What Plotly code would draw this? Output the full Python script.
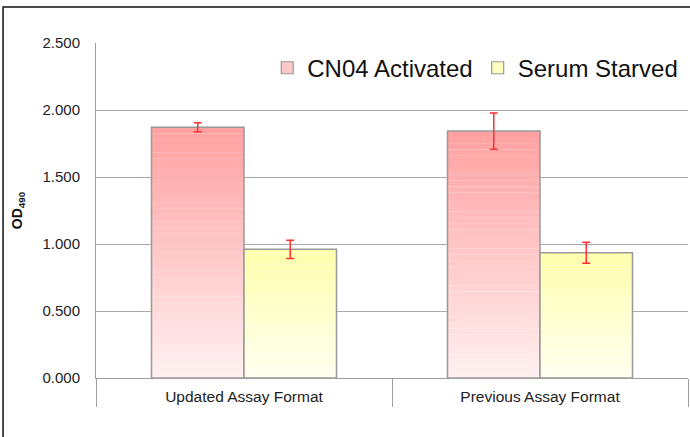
import plotly.graph_objects as go

categories = ["Updated Assay Format", "Previous Assay Format"]
series_names = ["CN04 Activated", "Serum Starved"]
cn04_values = [1.871, 1.843]
cn04_errors = [0.033, 0.135]
serum_values = [0.960, 0.935]
serum_errors = [0.068, 0.078]
y_tick_values = [0, 0.5, 1.0, 1.5, 2.0, 2.5]

series = [
    (series_names[0], cn04_values, cn04_errors, (255, 160, 160), (255, 240, 240), "#FFC8C8"),
    (series_names[1], serum_values, serum_errors, (255, 255, 170), (255, 255, 240), "#FFFFC0"),
]

N = 40
fig = go.Figure()
for si, (name, vals, errs, top, bot, legc) in enumerate(series):
    for i in range(N):
        t = (i + 0.5) / N
        c = tuple(round(bot[k] + (top[k] - bot[k]) * t) for k in range(3))
        fig.add_trace(go.Bar(
            x=categories, y=[v / N * 1.02 for v in vals], base=[v * i / N for v in vals],
            offsetgroup=str(si), marker=dict(color="rgb(%d,%d,%d)" % c, line=dict(width=0)),
            showlegend=False, hoverinfo="skip"))
    # outline + error bars
    fig.add_trace(go.Bar(
        x=categories, y=vals, offsetgroup=str(si),
        marker=dict(color="rgba(0,0,0,0)", line=dict(color="#999999", width=1.5)),
        error_y=dict(type="data", array=errs, color="#FF3030", thickness=1.5, width=4),
        showlegend=False))
    # legend entry
    fig.add_trace(go.Bar(
        x=categories, y=[None, None], offsetgroup=str(si), name=name,
        marker=dict(color=legc, line=dict(color="#999999", width=1.2)),
        showlegend=True))

fig.update_layout(
    width=690, height=437,
    margin=dict(l=96, r=2, t=43, b=59),
    paper_bgcolor="white", plot_bgcolor="white",
    barmode="group", bargap=0.375, bargroupgap=0,
    font=dict(family="Liberation Sans, Arial, sans-serif", color="#222222"),
    showlegend=True,
    legend=dict(orientation="h", x=0.992, xanchor="right", y=0.925, yanchor="middle",
                font=dict(size=24, color="#111111"), bgcolor="rgba(0,0,0,0)",
                itemwidth=30, traceorder="normal"),
    xaxis=dict(range=[-0.5, 1.5], showline=True, linecolor="#A0A0A0", linewidth=1,
               ticks="outside", tickson="boundaries", ticklen=28, tickcolor="#A0A0A0",
               tickfont=dict(size=15.5, color="#222222"), ticklabelstandoff=4,
               showgrid=False, zeroline=False),
    yaxis=dict(range=[0, 2.5], tickvals=y_tick_values, tickformat=".3f",
               showline=True, linecolor="#A0A0A0", linewidth=1,
               showgrid=True, gridcolor="#A8A8A8", gridwidth=1, zeroline=False,
               ticks="", ticklabelstandoff=12,
               tickfont=dict(size=15, color="#222222"),
               title=dict(text="<b>OD<sub>490</sub></b>", font=dict(size=14, color="#111111"),
                          standoff=16)),
    shapes=[dict(type="rect", xref="paper", yref="paper", x0=-0.157, x1=1.2, y0=-0.6, y1=1.1075,
                 line=dict(color="#111111", width=1.5), fillcolor="rgba(0,0,0,0)", layer="above")],
)

fig.write_html("out.html", config={"displayModeBar": False},
               post_script="document.body.style.margin='0';")
